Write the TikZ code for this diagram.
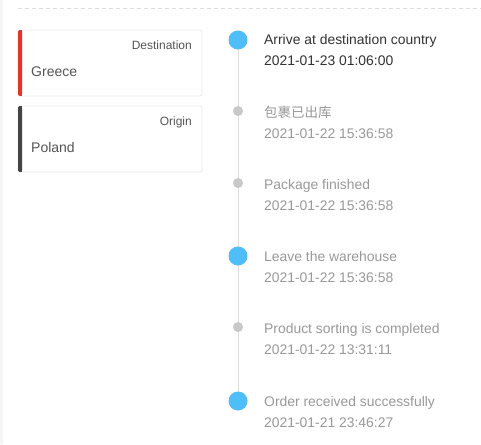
\documentclass[tikz,border=0pt]{standalone}
\usepackage{fontspec}
\setmainfont{Liberation Sans}
\newfontfamily\cjk{Noto Sans CJK SC}
\definecolor{bluedot}{HTML}{4DBEF7}
\definecolor{graydot}{HTML}{C8C8C8}
\definecolor{lineg}{HTML}{DDDDDD}
\definecolor{cardb}{HTML}{EBEBEB}
\definecolor{redbar}{HTML}{E5332A}
\definecolor{darkbar}{HTML}{444444}
\definecolor{txtdark}{HTML}{333333}
\definecolor{txtgray}{HTML}{999999}
\definecolor{cardtxt}{HTML}{555555}
\definecolor{stripg}{HTML}{F4F4F4}
\tikzset{
  card/.style={draw=cardb, line width=0.8pt, rounded corners=2pt, fill=white},
  bigdot/.style={circle, fill=bluedot, minimum size=19pt, inner sep=0pt},
  smalldot/.style={circle, fill=graydot, minimum size=10pt, inner sep=0pt},
  ttl/.style={anchor=base west, inner sep=0pt, font=\fontsize{13.9pt}{16pt}\selectfont, text=txtgray},
  dte/.style={anchor=base west, inner sep=0pt, font=\fontsize{13.9pt}{16pt}\selectfont, text=txtgray},
  small/.style={anchor=base east, inner sep=0pt, font=\fontsize{12pt}{14pt}\selectfont, text=cardtxt},
  big/.style={anchor=base west, inner sep=0pt, font=\fontsize{14pt}{16pt}\selectfont, text=cardtxt}
}
\begin{document}
\begin{tikzpicture}[x=1pt,y=-1pt]
\useasboundingbox (0,0) rectangle (481,444);
\fill[white] (0,0) rectangle (481,444);
\fill[stripg] (0,0) rectangle (3,444);
% dashed separator
\coordinate (dl) at (18,9);
\coordinate (dr) at (481,9);
\draw[lineg, line width=1pt, dash pattern=on 4pt off 3pt] (dl) -- (dr);
% cards
\draw[card] (18,30) rectangle (202,96);
\fill[redbar, rounded corners=2pt] (18,30) rectangle (22,96);
\fill[redbar] (20,30) rectangle (22,96);
\node[small] (dest) at (192,49.5) {Destination};
\node[big] (greece) at (31,76) {Greece};
\draw[card] (18,106) rectangle (202,172);
\fill[darkbar, rounded corners=2pt] (18,106) rectangle (22,172);
\fill[darkbar] (20,106) rectangle (22,172);
\node[small] (orig) at (192,125.5) {Origin};
\node[big] (poland) at (31,152) {Poland};
% timeline
\coordinate (ltop) at (238,40);
\coordinate (lbot) at (238,401);
\draw[lineg, line width=1pt] (ltop) -- (lbot);
\node[bigdot] (d1) at (238,40) {};
\node[smalldot] (d2) at (238,111) {};
\node[smalldot] (d3) at (238,183) {};
\node[bigdot] (d4) at (238,256) {};
\node[smalldot] (d5) at (238,327) {};
\node[bigdot] (d6) at (238,401) {};
\node[ttl, text=txtdark] (t1) at (264,45) {Arrive at destination country};
\node[dte, text=txtdark] (s1) at (264,66) {2021-01-23 01:06:00};
\node[ttl, font=\cjk\fontsize{13.5pt}{15pt}\selectfont] (t2) at (264,117) {包裹已出库};
\node[dte] (s2) at (264,138) {2021-01-22 15:36:58};
\node[ttl] (t3) at (264,189) {Package finished};
\node[dte] (s3) at (264,210) {2021-01-22 15:36:58};
\node[ttl] (t4) at (264,261) {Leave the warehouse};
\node[dte] (s4) at (264,282) {2021-01-22 15:36:58};
\node[ttl] (t5) at (264,333) {Product sorting is completed};
\node[dte] (s5) at (264,354) {2021-01-22 13:31:11};
\node[ttl] (t6) at (264,406) {Order received successfully};
\node[dte] (s6) at (264,427) {2021-01-21 23:46:27};
\end{tikzpicture}
\end{document}
